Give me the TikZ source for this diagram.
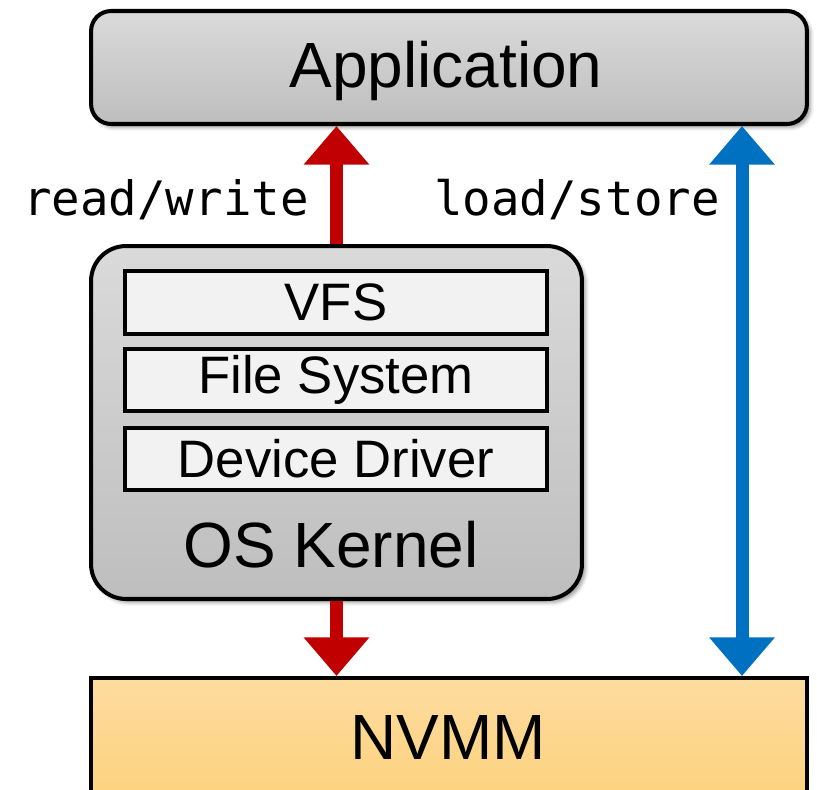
\documentclass[tikz,border=0pt]{standalone}
\usepackage{fontspec}
\setmainfont{Liberation Sans}
\setmonofont{DejaVu Sans Mono}
\usepackage{tikz}
\usetikzlibrary{arrows.meta, positioning, shadows.blur}
\definecolor{boxtop}{HTML}{DADADA}
\definecolor{boxbot}{HTML}{BEBEBE}
\definecolor{layerfill}{HTML}{F2F2F2}
\definecolor{nvmmtop}{HTML}{FDDC9E}
\definecolor{nvmmbot}{HTML}{FDD17C}
\definecolor{rwred}{HTML}{C00000}
\definecolor{lsblue}{HTML}{0070C0}

\begin{document}
\begin{tikzpicture}[x=0.02cm, y=-0.02cm,
    every node/.style={font=\sffamily},
    graybox/.style={
        rectangle, draw=black, line width=2.3pt,
        top color=boxtop, bottom color=boxbot,
        inner sep=0pt,
        blur shadow={shadow blur steps=4, shadow xshift=2pt, shadow yshift=-2pt},
    },
    layerbox/.style={
        rectangle, draw=black, line width=2.3pt, fill=layerfill,
        minimum width=8.45cm, minimum height=1.25cm, inner sep=0pt,
        font=\fontsize{30}{36}\selectfont,
    },
    bigtext/.style={font=\fontsize{36.4}{44}\selectfont},
    opslabel/.style={font=\ttfamily\fontsize{27}{32}\selectfont},
    fatarrow/.style={line width=7.4pt,
        -{Triangle[length=22pt, width=36pt]}},
]
\useasboundingbox (0,0) rectangle (817,789);

% ── Application ────────────────────────────────────────────────────────
\node[graybox, rounded corners=0.4cm, minimum width=14.32cm, minimum height=2.26cm]
    (app) at (449, 67.5) {};
\node[bigtext] (aname) at (446, 71) {Application};

% ── OS Kernel with its layers ──────────────────────────────────────────
\node[graybox, rounded corners=0.7cm, minimum width=9.82cm, minimum height=7.06cm]
    (kernel) at (336.5, 422.5) {};
\node[layerbox] (vfs) at (336, 302.5) {VFS};
\node[layerbox] (fs)  at (336, 380)   {File System};
\node[layerbox] (drv) at (336, 459)   {Device Driver};
\node[bigtext] (kname) at (331, 545) {OS Kernel};

% ── NVMM ───────────────────────────────────────────────────────────────
\node[rectangle, draw=black, line width=2.3pt, top color=nvmmtop, bottom color=nvmmbot,
    minimum width=14.32cm, minimum height=2.6cm, anchor=north, inner sep=0pt]
    (nvmm) at (449, 676) {};
\node[bigtext] (nname) at (448, 737) {NVMM};

% ── Access paths ───────────────────────────────────────────────────────
\coordinate (lsx) at (742, 0);
\draw[fatarrow, rwred] (kernel.north) -- (kernel.north |- app.south);
\draw[fatarrow, rwred] (kernel.south) -- (kernel.south |- nvmm.north);
\draw[line width=7.4pt, lsblue, {Triangle[length=22pt, width=36pt]}-{Triangle[length=22pt, width=36pt]}]
    (lsx |- app.south) -- (lsx |- nvmm.north);

\node[opslabel] (rw) at (166, 200) {read/write};
\node[opslabel] (ls) at (577, 200) {load/store};

\end{tikzpicture}
\end{document}
